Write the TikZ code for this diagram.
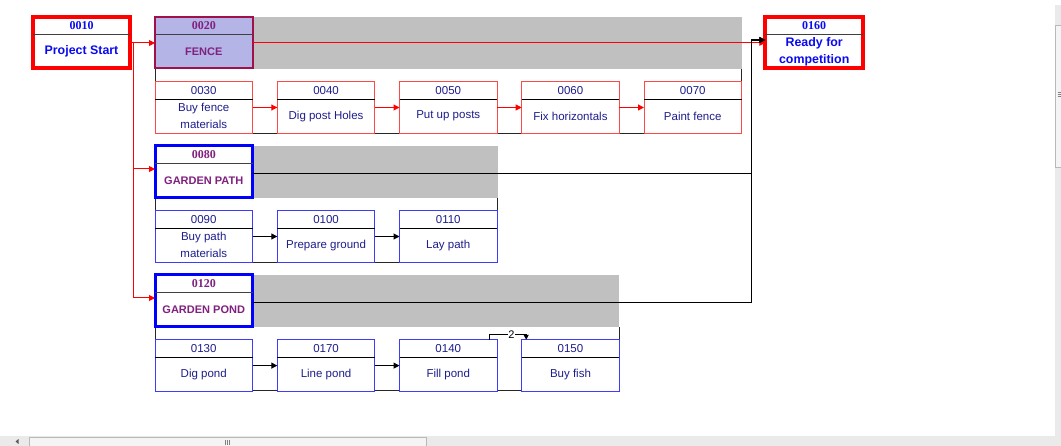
\documentclass[tikz,border=0pt]{standalone}
\usepackage{fontspec}
\setmainfont{Liberation Sans}
\newfontfamily\idfont{Liberation Serif}
\usetikzlibrary{arrows.meta}
\definecolor{navytext}{HTML}{1E1E8C}
\definecolor{bandgray}{HTML}{C0C0C0}
\definecolor{fenceborder}{HTML}{FF4848}
\definecolor{pathborder}{HTML}{3C3CFF}
\definecolor{sumblue}{HTML}{0A0AF0}
\definecolor{sumpurple}{HTML}{80207F}
\definecolor{lavender}{HTML}{B4B4E6}
\definecolor{fenceedge}{HTML}{A0104A}
\definecolor{divgray}{HTML}{404040}
\definecolor{sbtrack}{HTML}{EAEAEA}
\definecolor{sbthumb}{HTML}{F4F4F4}
\definecolor{sbedge}{HTML}{B8B8B8}
\newcommand\taskbox[6]{%
  \node[taskframe, draw=#6] (#1) at (#2+48.75,#3+25.8) {};
  \draw[taskdiv] ([yshift=-17.3pt]#1.north west) -- ([yshift=-17.3pt]#1.north east);
  \node[tasktext] (#1id) at ([yshift=-9pt]#1.north) {#4};
  \node[tasktext] (#1nm) at ([yshift=17.1pt]#1.south) {#5};
}
\begin{document}
\begin{tikzpicture}[x=1pt,y=-1pt,
  taskframe/.style={rectangle, minimum width=97.5pt, minimum height=51.6pt, inner sep=0pt, outer sep=0pt, line width=1pt, fill=white},
  taskdiv/.style={line width=0.9pt, black},
  tasktext/.style={font=\fontsize{11.5}{17}\selectfont, text=navytext, inner sep=0pt, align=center},
  sumframe/.style={rectangle, minimum width=97.5pt, minimum height=51.5pt, inner sep=0pt, outer sep=0pt, fill=white},
  sumdiv/.style={line width=1.1pt, divgray},
  sumid/.style={font=\idfont\bfseries\fontsize{12}{14}\selectfont, inner sep=0pt},
  sumname/.style={font=\bfseries\fontsize{12.4}{17}\selectfont, inner sep=0pt, align=center},
  grpname/.style={font=\bfseries\fontsize{11}{14}\selectfont, inner sep=0pt, text=sumpurple},
  bracket/.style={line width=0.9pt, black!85},
  redline/.style={line width=1pt, red},
  redarrow/.style={line width=1pt, red, -{Triangle[length=6pt,width=6pt]}},
  blkarrow/.style={line width=1.1pt, black, -{Triangle[length=6pt,width=6pt]}},
  lag/.style={font=\fontsize{11}{13}\selectfont, fill=white, inner sep=0.6pt}
]
\useasboundingbox (0,0) rectangle (1061,446);
\fill[white] (0,0) rectangle (1061,446);

% grey summary bands
\fill[bandgray] (252,17) rectangle (742,69);
\fill[bandgray] (252,146) rectangle (497.5,198.3);
\fill[bandgray] (252,275) rectangle (619.3,327);

% group brackets
\draw[bracket] (155,68) -- (155,133.4) -- (741.7,133.4) -- (741.7,69);
\draw[bracket] (155,197.7) -- (155,262.4) -- (497.5,262.4) -- (497.5,198.3);
\draw[bracket] (155,326.7) -- (155,390.8) -- (619.3,390.8) -- (619.3,327);

% milestones / summaries
\node[sumframe, draw=red, line width=4pt, minimum width=97pt, minimum height=51pt] (s10) at (81.5,42.5) {};
\draw[sumdiv] ([yshift=-17.7pt]s10.north west) -- ([yshift=-17.7pt]s10.north east);
\node[sumid, text=sumblue] (s10id) at (81.5,25.5) {0010};
\node[sumname, text=sumblue] (s10nm) at (81.5,51.5) {Project Start};

\node[sumframe, draw=fenceedge, fill=lavender, line width=2pt, minimum width=97.5pt, minimum height=51pt] (s20) at (203.75,42.8) {};
\draw[sumdiv] ([yshift=-17.4pt]s20.north west) -- ([yshift=-17.4pt]s20.north east);
\node[sumid, text=sumpurple] (s20id) at (203.75,25.8) {0020};
\node[grpname] (s20nm) at (203.75,51.5) {FENCE};

\node[sumframe, draw=red, line width=4pt, minimum width=97.7pt, minimum height=51pt] (s160) at (814.2,42.5) {};
\draw[sumdiv] ([yshift=-17.7pt]s160.north west) -- ([yshift=-17.7pt]s160.north east);
\node[sumid, text=sumblue] (s160id) at (814.2,25.5) {0160};
\node[sumname, text=sumblue] (s160nm) at (814.2,51.5) {Ready for\\competition};

\node[sumframe, draw=blue, line width=3pt, minimum width=97.5pt, minimum height=52pt] (s80) at (203.75,171.7) {};
\draw[sumdiv] ([yshift=-18.2pt]s80.north west) -- ([yshift=-18.2pt]s80.north east);
\node[sumid, text=sumpurple] (s80id) at (203.75,154.8) {0080};
\node[grpname] (s80nm) at (203.75,180.8) {GARDEN PATH};

\node[sumframe, draw=blue, line width=3pt, minimum width=97.5pt, minimum height=52pt] (s120) at (203.75,300.7) {};
\draw[sumdiv] ([yshift=-18pt]s120.north west) -- ([yshift=-18pt]s120.north east);
\node[sumid, text=sumpurple] (s120id) at (203.75,283.7) {0120};
\node[grpname] (s120nm) at (203.75,309.8) {GARDEN POND};

% tasks
\taskbox{t30}{155}{81.7}{0030}{Buy fence\\materials}{fenceborder}
\taskbox{t40}{277.3}{81.7}{0040}{Dig post Holes}{fenceborder}
\taskbox{t50}{399.5}{81.7}{0050}{Put up posts}{fenceborder}
\taskbox{t60}{521.7}{81.7}{0060}{Fix horizontals}{fenceborder}
\taskbox{t70}{644}{81.7}{0070}{Paint fence}{fenceborder}

\taskbox{t90}{155}{210.7}{0090}{Buy path\\materials}{pathborder}
\taskbox{t100}{277.3}{210.7}{0100}{Prepare ground}{pathborder}
\taskbox{t110}{399.5}{210.7}{0110}{Lay path}{pathborder}

\taskbox{t130}{155}{339.8}{0130}{Dig pond}{pathborder}
\taskbox{t170}{277.3}{339.8}{0170}{Line pond}{pathborder}
\taskbox{t140}{399.5}{339.8}{0140}{Fill pond}{pathborder}
\taskbox{t150}{521.7}{339.8}{0150}{Buy fish}{pathborder}

% links from project start
\coordinate (r0) at (133.5,43);
\coordinate (b80) at (0,169);
\coordinate (b120) at (0,298);
\draw[redline] (s10.east |- r0) -- (r0);
\draw[redarrow] (r0) -- (s20.west |- r0);
\draw[redarrow] (r0) |- (s80.west |- b80);
\draw[redarrow] (r0) |- (s120.west |- b120);

% fence summary to end milestone
\draw[redarrow] (s20.east) -- (s160.west |- s20.east);

% garden path / pond to end milestone
\coordinate (jx) at (751.5,40);
\draw[blkarrow] ([yshift=-1.6pt]s80.east) -| (jx) -- (s160.west |- jx);
\draw[blkarrow] ([yshift=-2pt]s120.east) -| (jx) -- (s160.west |- jx);

% task links
\draw[redarrow] (t30) -- (t40);
\draw[redarrow] (t40) -- (t50);
\draw[redarrow] (t50) -- (t60);
\draw[redarrow] (t60) -- (t70);
\draw[blkarrow] (t90) -- (t100);
\draw[blkarrow] (t100) -- (t110);
\draw[blkarrow] (t130) -- (t170);
\draw[blkarrow] (t170) -- (t140);
\draw[line width=1pt, black, -{Triangle[length=5pt,width=5pt]}] ([xshift=-7.5pt]t140.north east) -- ++(0,-5.5) -| node[lag, pos=0.3] (lag2) {2} ([xshift=4.5pt]t150.north west);

% window scroll bars
\fill[sbtrack] (0,436) rectangle (1061,446);
\draw[sbedge, fill=sbthumb, line width=0.7pt] (29,437.5) rectangle (426,447);
\draw[gray, line width=0.6pt] (225,440) -- (225,445) (227,440) -- (227,445) (229,440) -- (229,445);
\fill[gray!70!black] (15.5,441.5) -- (18.5,439) -- (18.5,444) -- cycle;
\fill[sbtrack] (1054.5,5) rectangle (1061,436);
\draw[sbedge, fill=sbthumb, line width=0.7pt] (1055.5,25) rectangle (1062,167);
\draw[gray, line width=0.6pt] (1058,92) -- (1062,92) (1058,94) -- (1062,94) (1058,96) -- (1062,96);
\end{tikzpicture}
\end{document}
